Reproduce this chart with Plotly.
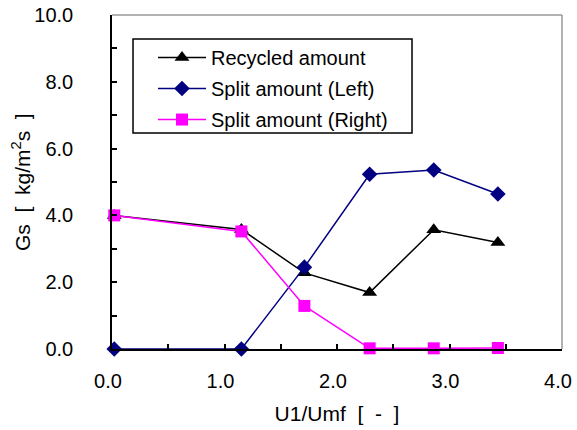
import plotly.graph_objects as go

x_vals = [0.02, 1.15, 1.71, 2.29, 2.86, 3.43]
recycled = [4.00, 3.58, 2.28, 1.69, 3.57, 3.19]
split_left = [0.00, 0.00, 2.45, 5.23, 5.36, 4.64]
split_right = [4.00, 3.52, 1.29, 0.02, 0.02, 0.03]

series_names = ["Recycled amount", "Split amount (Left)", "Split amount (Right)"]

FONT = "Arial, 'Liberation Sans', sans-serif"
FS_TICK = 20
FS_TITLE = 21
FS_LEG = 20
NB = "\u00a0"

fig = go.Figure()
fig.add_trace(go.Scatter(x=x_vals, y=recycled, name=series_names[0], mode="lines+markers",
                         line=dict(color="black", width=1.5), legendgroup="a", cliponaxis=False,
                         marker=dict(symbol="triangle-up", size=13, color="black")))
fig.add_trace(go.Scatter(x=x_vals, y=split_left, name=series_names[1], mode="lines+markers",
                         line=dict(color="#000080", width=1.5), legendgroup="b", cliponaxis=False,
                         marker=dict(symbol="diamond", size=12, color="#000080")))
fig.add_trace(go.Scatter(x=x_vals, y=split_right, name=series_names[2], mode="lines+markers",
                         line=dict(color="#FF00FF", width=1.5), legendgroup="c", cliponaxis=False,
                         marker=dict(symbol="square", size=12, color="#FF00FF")))

axis_common = dict(showgrid=False, zeroline=False, showline=True, linecolor="black", linewidth=1.5,
                   ticks="inside", ticklen=5, tickcolor="black", tickwidth=1.5, automargin=False,
                   tickfont=dict(family=FONT, size=FS_TICK, color="black"),
                   title_font=dict(family=FONT, size=FS_TITLE, color="black"))

fig.update_xaxes(range=[0, 4], dtick=1, tick0=0, tickformat=".1f",
                 minor=dict(dtick=0.5, ticks="inside", ticklen=5, tickcolor="black", tickwidth=1.5),
                 title_text=f"U1/Umf{NB}{NB}[{NB}{NB}-{NB}{NB}]", title_standoff=16,
                 ticklabelstandoff=13, ticklabelshift=-4, **axis_common)
fig.update_yaxes(range=[0, 10], dtick=2, tick0=0, tickformat=".1f",
                 minor=dict(dtick=1, ticks="inside", ticklen=5, tickcolor="black", tickwidth=1.5),
                 ticklabelstandoff=33, **axis_common)

# y-axis title placed explicitly
fig.add_annotation(text=f"Gs{NB}{NB}[{NB}{NB}kg/m<sup>2</sup>s{NB}{NB}]", xref="paper", yref="paper",
                   x=(21 - 112) / 450, y=0.5, xanchor="center", yanchor="middle", textangle=-90,
                   showarrow=False, font=dict(family=FONT, size=FS_TITLE, color="black"))

# grey top and right frame
fig.add_shape(type="line", xref="paper", yref="paper", x0=0, x1=1, y0=1, y1=1,
              line=dict(color="#999999", width=1.5))
fig.add_shape(type="line", xref="paper", yref="paper", x0=1, x1=1, y0=0, y1=1,
              line=dict(color="#999999", width=1.5))
# legend frame
fig.add_shape(type="rect", xref="paper", yref="paper", x0=0.0467, x1=0.6667, y0=0.6467, y1=0.9281,
              line=dict(color="black", width=1.5), fillcolor="white", layer="below")

fig.update_layout(
    width=577, height=430,
    margin=dict(l=112, r=15, t=15, b=81),
    paper_bgcolor="white", plot_bgcolor="white",
    font=dict(family=FONT, size=FS_TICK, color="black"),
    legend=dict(x=0.0911, y=0.931, xanchor="left", yanchor="top",
                borderwidth=0, bgcolor="rgba(0,0,0,0)",
                font=dict(family=FONT, size=FS_LEG, color="black"),
                itemwidth=48, tracegroupgap=2),
    showlegend=True,
)

fig.write_html("out.html", config={"displayModeBar": False},
               post_script="document.body.style.margin='0';document.body.style.overflow='hidden';")
